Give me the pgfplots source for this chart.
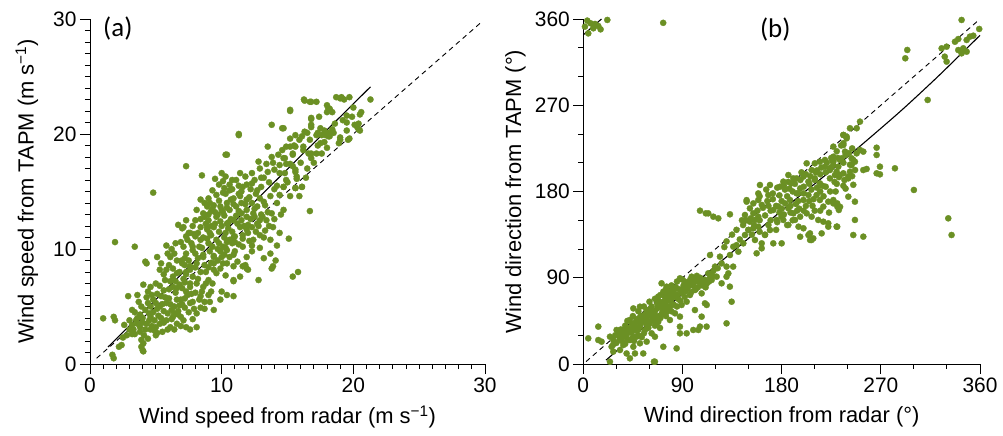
\documentclass[border=0pt]{standalone}
\usepackage{pgfplots}
\pgfplotsset{compat=1.18}
\usepackage{fontspec}
\setmainfont{Liberation Sans}
\newfontfamily\calib{Carlito}
\definecolor{dotgreen}{RGB}{107,144,36}
\pgfplotsset{
  myax/.style={
    scale only axis, height=345bp,
    axis x line=bottom, axis y line=left,
    axis line style={-, line width=0.9bp},
    tick align=outside, major tick length=10bp, minor tick length=5bp,
    every tick/.style={black, line width=0.9bp},
    every minor tick/.style={black, line width=0.9bp},
    every tick label/.append style={font=\fontsize{21}{24}\selectfont},
    /pgf/number format/assume math mode=true,
    label style={font=\fontsize{22}{26}\selectfont},
    x label style={at={(axis description cs:0.5,-0.153)}, anchor=center},
    clip=false, anchor=origin,
  },
  dots/.style={color=dotgreen, only marks, mark=*, mark size=3.1bp, mark options={solid, draw=dotgreen, fill=dotgreen, line width=0.3bp}},
}
\begin{document}
\begin{tikzpicture}
\path[use as bounding box] (0,0) rectangle (1003bp,436bp);
\begin{axis}[myax, at={(90bp,72bp)}, width=395bp,
  xmin=0, xmax=30, ymin=0, ymax=30,
  xtick={0,10,20,30}, ytick={0,10,20,30}, minor tick num=9,
  xlabel={Wind speed from radar (m s\textsuperscript{−1})},
  ylabel={Wind speed from TAPM (m s\textsuperscript{−1})},
  y label style={at={(axis description cs:-0.16,0.5)}, anchor=center},
]
\addplot[dots] coordinates {
(1.0,3.97)(1.9,3.8)(1.7,0.8)(1.8,0.5)(1.9,10.6)(3.4,10.2)(4.8,14.9)(7.3,17.2)(8.5,16.4)(11.3,19.9)
(10.3,18.2)(15.8,8.0)(15.4,7.6)(16.7,13.3)(15.1,10.9)(13.8,8.3)(12.8,7.3)(8.1,3.2)(4.0,1.2)(4.05,1.8)
(2.4,1.65)(2.9,5.9)(4.3,8.75)(5.1,9.3)(16.25,23.0)(16.8,22.8)(17.2,22.8)(18.7,23.2)(19.0,23.1)(19.7,23.2)
(21.3,23.0)(15.2,22.1)(19.9,21.5)(20.5,21.7)(20.6,21.9)(20.1,20.8)(20.4,20.4)(19.7,19.6)(19.0,19.5)(18.1,20.1)
(18.2,19.8)(16.8,21.4)(17.5,20.5)(18.1,22.2)(18.2,22.1)(17.4,21.5)
(1.8,4.1)(3.2,4.7)(4.05,6.9)(4.4,6.3)(4.2,8.9)(5.4,8.75)(5.9,9.6)(6.1,9.3)(5.8,10.3)(6.7,12.1)
(7.0,11.8)(7.3,11.1)(7.6,11.4)(6.5,10.5)(7.1,10.2)(7.7,10.5)(7.8,9.9)(8.4,10.8)(8.5,10.1)(8.9,11.9)
(9.1,11.4)(6.3,8.3)(6.6,7.9)(5.8,8.2)(5.3,8.2)(7.0,8.75)(7.5,9.0)(8.1,8.75)(7.6,8.2)(8.7,8.6)
(9.4,9.3)(9.9,9.8)(10.1,10.2)(10.1,8.75)(10.6,9.3)(10.3,7.7)(10.9,7.3)(10.9,8.5)(10.6,10.8)(9.6,7.9)
(9.4,8.2)(10.0,6.3)(9.9,5.6)(10.4,6.0)(10.9,5.9)(6.1,7.2)(6.3,6.7)(7.1,7.4)(6.8,6.9)(7.6,6.7)
(8.1,7.0)(8.6,6.7)(9.0,7.3)(8.4,5.9)(8.7,5.4)(9.2,6.3)(9.1,5.4)(8.7,4.8)(8.1,4.4)(9.4,4.7)
(7.6,5.3)(7.2,5.7)(6.6,5.6)(6.8,5.1)(5.8,5.3)(6.2,4.7)(5.3,5.0)(5.6,4.6)(4.8,5.6)(4.4,5.3)
(5.1,6.1)(5.6,6.4)(4.2,4.7)(4.6,4.1)(3.8,4.3)(3.5,3.8)(4.9,3.8)(5.3,3.5)(5.8,3.8)(6.3,4.1)
(6.7,4.3)(7.1,3.8)(6.1,3.2)(6.6,3.5)(3.8,3.2)(3.3,3.0)(4.1,2.5)(3.9,2.1)(3.0,3.8)(3.2,3.4)
(3.7,5.4)(3.9,5.0)(3.9,1.5)(4.05,1.1)(2.2,1.5)(7.3,3.2)(7.6,3.0)(5.1,2.7)(4.6,3.0)
(11.3,20.0)(10.4,18.2)(13.8,20.8)(14.6,20.5)(13.5,18.9)(15.6,19.9)(16.5,20.1)(16.8,20.8)(15.2,18.9)(15.4,18.3)
(15.9,19.5)(16.2,18.9)(17.2,19.9)(17.5,19.2)(17.8,20.3)(16.6,18.3)(16.8,17.9)(17.2,18.3)(15.2,17.4)(15.6,16.9)
(14.7,17.9)(14.4,17.3)(13.8,18.0)(13.4,17.4)(12.8,17.6)(12.9,17.0)(13.5,16.7)(14.0,16.9)(12.3,16.6)(11.8,16.3)
(11.4,16.6)(11.1,16.0)(10.1,15.9)(10.6,15.6)(10.0,16.6)(9.5,16.1)(11.6,15.4)(12.3,15.7)(12.7,15.1)(13.0,15.4)
(14.4,16.6)(14.9,16.0)(15.7,16.1)(16.1,15.4)(15.6,15.3)(15.2,14.6)(14.7,15.4)(14.4,14.7)(15.9,14.6)(14.2,14.0)
(14.7,13.4)(13.7,14.6)(13.2,14.1)(12.7,13.7)(12.3,14.0)(11.9,14.3)(11.4,14.6)(9.3,15.1)(9.6,14.7)(9.0,14.4)
(9.4,13.8)(10.1,14.9)(10.6,15.1)(10.9,14.4)(10.4,14.0)(9.9,13.7)(10.1,13.2)(10.6,13.4)(11.1,13.7)(11.5,13.1)
(11.9,12.8)(12.5,12.8)(12.9,12.5)(13.4,12.5)(13.8,13.1)(13.9,11.9)(14.4,11.4)(13.3,11.6)(12.9,11.2)(12.3,11.9)
(11.9,11.7)(9.6,12.8)(9.0,12.5)(9.4,11.9)(9.9,12.4)(10.4,12.2)(10.9,12.5)(10.3,11.4)(10.8,11.5)(11.4,11.9)
(11.6,11.2)(9.2,11.2)(8.9,11.7)(8.4,11.9)(8.0,11.1)(7.5,11.4)(7.1,11.9)(8.1,13.4)(8.6,13.1)(8.0,12.5)
(7.3,12.5)(8.4,14.3)(8.7,14.0)(9.8,10.5)(10.3,10.1)(11.0,10.6)(11.6,10.2)(12.4,10.8)(12.9,10.1)(13.7,10.8)
(14.2,10.3)(12.3,9.8)(11.9,9.3)(13.2,9.2)(13.7,9.6)(14.1,9.0)(13.9,8.5)(10.9,9.5)(11.2,8.9)(10.0,9.3)
(10.4,8.75)(9.1,9.8)(8.6,9.3)(7.8,10.2)(7.3,9.6)(9.4,8.75)(9.9,8.3)(11.6,8.5)(11.9,8.3)(6.96,9.0)
(7.2,8.6)(7.6,8.5)(11.8,8.6)(12.0,8.2)(11.4,7.6)(10.9,7.2)
(16.3,22.9)(16.7,22.8)(19.1,23.2)(19.3,23.0)(15.2,22.0)(18.0,22.5)(18.2,22.2)(18.4,21.9)(18.0,21.9)(16.8,21.3)
(19.5,21.6)(14.7,20.5)(16.8,20.6)(20.4,20.9)(16.3,20.2)(15.2,19.6)(17.3,20.1)(17.6,19.9)(18.4,20.4)(18.5,20.1)
(18.1,19.8)(17.9,19.9)(16.1,19.8)(16.7,19.5)(19.5,21.0)(19.5,20.3)(20.5,20.3)(20.3,20.6)(19.0,19.7)(19.6,19.5)
(18.9,19.2)(17.3,19.0)(15.6,18.9)(15.4,18.2)(16.2,18.6)(16.8,18.3)(18.0,18.8)(14.6,18.6)(14.8,17.9)(14.9,17.4)
(15.4,17.2)(15.6,16.7)(14.8,16.6)(15.7,16.3)(14.7,15.4)(15.6,15.3)(16.1,15.4)
(9.0,13.0)(9.3,13.5)(9.5,12.2)(9.7,13.0)(9.8,14.2)(10.0,12.0)(10.2,12.9)(10.4,13.6)(10.5,11.8)(10.7,12.6)
(10.9,13.9)(11.0,11.1)(11.2,12.2)(11.3,13.3)(11.5,14.0)(11.7,12.0)(11.9,13.4)(12.1,14.5)(12.2,12.6)(12.5,13.5)
(12.6,14.8)(10.3,14.8)(10.8,15.2)(11.5,15.0)(9.6,10.8)(10.2,11.0)(10.8,10.5)(11.6,10.9)(12.0,11.4)(12.8,12.0)
(13.0,13.0)(13.3,13.8)(9.2,12.0)(8.8,12.2)(8.6,11.0)(9.0,10.5)(8.3,10.2)(8.0,9.6)(8.6,9.5)(9.4,9.4)
(10.4,9.9)(11.0,9.8)(12.3,10.3)
(4.5,3.8)(4.8,4.5)(5.0,3.2)(5.2,4.2)(5.5,5.2)(5.6,3.6)(5.9,4.4)(6.0,5.7)(6.2,3.9)(6.4,5.0)
(6.5,6.2)(6.7,4.6)(6.9,5.6)(7.0,6.6)(7.2,4.9)(7.4,6.0)(7.6,7.0)(7.8,5.4)(8.0,6.2)(8.2,7.4)
(3.6,3.5)(4.0,4.0)(4.2,3.0)(3.4,2.6)(4.4,2.2)(5.0,2.5)(4.7,6.0)(5.3,6.8)(5.7,7.3)(6.3,7.6)
(6.8,8.0)(7.3,7.8)(3.0,3.0)(2.8,2.5)(3.8,2.8)(4.6,5.0)
(8.7,12.8)(9.1,14.0)(9.5,13.2)(9.8,11.5)(10.0,13.4)(10.2,15.3)(10.5,12.3)(10.7,14.3)(10.9,11.0)(11.1,12.9)
(11.3,14.8)(11.5,12.5)(11.8,13.9)(12.0,12.1)(12.2,15.2)(12.4,13.1)(12.7,12.2)(12.9,14.4)(13.1,12.8)(13.5,13.2)
(9.3,10.2)(9.7,10.0)(10.4,10.6)(11.3,10.4)(12.1,10.7)(12.6,11.5)(13.2,11.0)(13.6,12.0)(14.0,12.6)(14.5,13.0)
(14.0,15.2)(13.6,15.8)(13.0,16.2)(12.5,16.0)(11.9,15.6)(11.3,15.5)(10.8,16.0)(10.3,16.3)(9.8,15.6)(9.2,13.3)
(8.9,13.7)(8.4,12.6)(8.2,11.4)(7.8,12.0)(8.9,10.9)
(4.3,3.5)(4.7,3.3)(5.1,4.8)(5.4,4.0)(5.7,5.8)(5.9,3.0)(6.1,5.2)(6.4,4.4)(6.6,6.6)(6.9,4.1)
(7.0,5.2)(7.3,6.3)(7.5,4.5)(7.7,6.1)(7.9,4.8)(8.3,5.6)(8.5,6.3)(8.8,7.0)(9.0,6.0)(9.3,7.0)
(5.4,5.9)(5.0,5.3)(4.5,4.4)(4.0,3.6)(3.6,4.0)(3.2,2.6)(4.9,2.9)(5.5,2.8)(6.4,3.0)(6.9,3.3)
(7.8,3.9)(8.4,4.9)(6.0,6.5)(6.5,7.2)(7.2,7.1)(7.8,7.6)(8.4,8.0)(9.0,8.4)(8.0,8.4)(7.3,8.0)
(5.0,7.0)(4.6,6.7)(3.6,6.0)(4.3,5.8)(3.4,4.5)(2.6,3.4)(2.5,2.3)
(6.0,8.6)(6.4,9.6)(6.9,10.6)(7.4,10.8)(7.9,11.3)(8.2,9.2)(8.8,8.0)(9.2,8.8)(9.7,9.0)(10.2,9.5)
(6.6,9.0)(7.2,9.2)(5.6,7.8)(6.2,10.0)
(13.2,16.2)(13.9,17.5)(14.3,18.2)(14.9,18.9)(15.5,19.0)(16.0,17.5)(16.5,17.0)(17.0,17.5)(17.6,18.3)(16.4,16.2)
(15.0,15.8)(14.2,15.5)(17.8,19.3)(18.6,20.9)(19.2,21.2)(20.0,22.3)
};
\addplot[black, line width=0.9bp, dash pattern=on 5bp off 4bp] coordinates {(0.5,0.5)(29.8,29.8)};
\addplot[black, line width=1.1bp] coordinates {(1.37,1.48)(21.3,24.1)};
\node[font=\calib\fontsize{27}{30}\selectfont, anchor=north west, inner sep=0pt] at (axis description cs:0.033,1.006) {(a)};
\end{axis}
\begin{axis}[myax, at={(583.3bp,72bp)}, width=396.7bp,
  xmin=0, xmax=360, ymin=0, ymax=360,
  xtick={0,90,180,270,360}, ytick={0,90,180,270,360}, minor tick num=2,
  xlabel={Wind direction from radar (°)},
  ylabel={Wind direction from TAPM (°)},
  y label style={at={(axis description cs:-0.171,0.5)}, anchor=center},
]
\addplot[dots] coordinates {
(3.6,358.3)(6.7,355.5)(4.5,345)(9.1,350.3)(13.6,352.7)(15.7,349.2)(21.8,359)(10.6,354.8)(72.5,356)(1.5,352)
(4.5,26.8)(13.6,39)(13.6,25)(16.6,23.3)(24.2,28.5)(27.2,25)(25.7,18)(27.2,12.9)(30.2,35.5)(33.3,32)
(36.3,28.5)(39.3,33.7)(42.3,25)(45.4,18)(46.9,11)(54.4,11)(42.3,45.9)(46.9,42.4)(45.4,58)(51.4,39)
(56,35.5)(53,49.4)(57.5,45.9)(51.4,59.8)(57.5,56.3)(63.5,51.1)(59,37.6)(62,32)(66.5,42.4)(69.6,37.6)
(72.6,18)(65,2.4)(84.7,16.3)(69.6,59.8)(72.6,65)(68,70.3)(72.6,75.5)(71,84.2)(75.6,80.7)(80.2,77.2)
(84.7,72)(77.1,68.9)(80.2,61.6)(75.6,54.6)(83.2,52.9)(78.6,45.9)(87.7,49.4)(87.7,89.4)(92.3,85.9)(93.8,79)
(96.8,72)(98.3,91.1)(104.4,85.9)(101.3,77.2)(107.4,73.7)(113.4,94.6)(116.5,87.7)(121,91.1)(125.5,84.2)(110.4,63.3)
(93.8,32)(99.8,35.5)(104.4,35.5)(111.9,39)(130,42.4)(134.6,65)(130,101.6)(131.6,94.6)(139.1,124)(89.2,61.6)
(93.8,65)(87.7,39)(107.4,49.4)(101.3,56.3)(65,28.5)(57.5,23.3)(48.4,28.5)(51.4,21.6)(36.3,19.8)(33.3,14.6)
(39.3,11)(42.3,5.9)(24.2,2.4)(64.1,2.4)
(35,30)(38,40)(42,33)(45,38)(48,45)(50,30)(52,42)(55,48)(58,40)(60,52)
(62,45)(65,55)(68,50)(70,60)(72,55)(75,64)(78,58)(80,68)(82,62)(85,72)
(88,66)(90,78)(92,70)(95,80)(98,75)(100,84)(102,78)(105,86)(108,82)(110,88)
(112,84)(115,90)(40,25)(45,28)(50,36)(55,32)(60,42)(65,40)(70,48)(75,50)
(80,55)(85,60)(40,45)(45,50)(50,55)(55,60)(60,65)(65,68)(70,72)(75,78)
(80,82)(85,86)(90,88)(30,22)(33,26)(37,36)(44,42)(62,60)(67,63)(78,72)
(83,78)(94,83)(103,92)(118,97)(122,100)
(32,30)(36,33)(40,38)(43,36)(47,40)(49,47)(53,45)(56,52)(59,50)(61,57)
(64,53)(67,58)(69,65)(73,62)(74,70)(77,74)(79,66)(81,75)(84,80)(86,68)
(89,74)(91,82)(93,76)(96,86)(99,82)(101,88)(104,80)(106,90)(109,85)(111,80)
(114,86)(117,92)(48,35)(52,50)(57,42)(63,48)(68,44)(71,52)(76,60)(82,70)
(87,78)(97,88)(44,33)(39,29)(34,36)(29,30)(27,20)(35,24)(38,21)(46,24)
(53,28)(59,44)(66,47)(73,57)
(105.9,160)(111.2,157.2)(113.4,157.2)(118,153.7)(122.5,152)(133.1,156.2)
(148.2,169.4)(154.3,167.6)(151.2,162.4)(160.3,186.8)(169.4,186.8)(178.5,185)(181.5,190.3)(167.9,176.3)(158.8,171.1)(146.7,155.5)
(151.2,148.5)(155.8,150.3)(158.8,153.7)(149.7,139.8)(146.7,134.6)(154.3,141.6)(158.8,143.3)(136.1,122.4)(140.7,117.2)(133.1,113.7)
(125.5,105)(119.5,101.6)(145.2,125.9)(155.8,129.4)(161.9,120.7)(157.3,115.5)(161.9,125.9)(172.4,125.9)(180,125.9)(169.4,139.8)
(164.8,134.6)(175.5,150.3)(180,153.7)(172.4,160.7)(176.9,164.2)(183.1,167.6)(187.6,171.1)(186.1,162.4)(190.6,157.2)(181.5,150.3)
(186.1,145.1)(195.3,143.3)(199.8,141.6)(204.3,134.6)(208.7,131.1)(196.8,132.8)(205.8,129.4)(192.1,150.3)(196.8,153.7)(202.7,157.2)
(207.2,153.7)(213.2,150.3)(217.8,148.5)(217.8,164.2)(222.3,169.4)(230.4,167.6)(231.9,160.7)(222.3,143.3)(230.4,143.3)(211.7,176.3)
(214.7,171.1)(199.8,171.1)(204.3,176.3)(193.6,178.1)(196.8,183.3)(188.8,188.5)(193.6,193.7)(199.8,195.5)(204.3,190.3)(210.1,193.7)
(214.7,188.5)(186.1,197.2)(190.6,193.7)(202.7,209.4)(207.2,202.4)(210.1,209.4)(214.7,211.1)(219.3,205.9)(223.8,202.4)(219.3,212.9)
(226.9,216.3)(226.9,207.6)(231.4,205.9)(232.9,212.9)(237.5,221.6)(228.4,197.2)(223.8,193.7)(236,199)(240.5,195.5)(243.5,207.6)
(246.6,202.4)(236,230.4)(236,239)(239,235.5)(248.1,246)(245,212.9)(248.1,219.8)(240.5,174.6)
(150,140)(155,145)(160,150)(165,155)(170,160)(175,165)(180,170)(185,175)(190,180)(195,178)
(200,185)(205,188)(210,192)(215,198)(220,200)(225,205)(170,150)(178,158)(188,165)(195,170)
(205,170)(215,180)(220,185)(228,190)(232,195)(190,150)(200,160)(208,165)(185,145)(175,140)
(165,135)(142,130)(148,150)(163,163)(172,172)(183,182)(198,200)(212,202)(225,215)(230,222)
(196,162)(210,160)(218,175)(229,180)(236,186)(242,208)(234,228)
(145,145)(152,152)(158,160)(162,166)(167,170)(172,178)(178,176)(182,186)(187,183)(192,188)
(197,192)(202,198)(206,196)(211,200)(216,205)(221,210)(226,212)(231,215)(236,210)(238,218)
(241,220)(244,225)(153,135)(160,138)(168,145)(176,148)(182,156)(188,158)(194,160)(202,165)
(209,172)(217,186)(224,180)(230,188)(237,192)(244,196)(200,178)(207,182)(212,184)(186,190)
(176,184)(166,182)(160,175)(139,140)(135,135)(128,122)(130,128)(144,150)(168,165)(180,162)
(193,167)(215,160)(223,158)(238,183)(245,187)
(343.3,359)(359.3,349.6)(294,327.7)(292.2,319)(325.2,329.4)(329.7,331.1)(337.3,336.3)(340.3,339.1)(347.9,338.1)(350.9,341.6)
(353.9,342.6)(328,320.7)(329.7,315.5)(340.3,327.6)(343.3,324.2)(344.8,329.4)(347.9,325.9)(312.5,275.5)(251.1,252.9)(242,246)
(236,239)(239,237.2)(226.9,226.8)(236,228.5)(266.2,225.7)(254.1,221.6)(251.1,223.3)(266.2,218.1)(282.8,204.2)(269.2,205.9)
(266.2,199)(269.2,197.9)(254.1,202.4)(257.1,203.5)(246.5,211.1)(243.5,214.6)(242,200.7)(240.5,193.7)(229.9,200.7)(232.9,197.2)
(226.9,211.1)(234.4,214.6)(223.8,204.2)(300,181.6)(226.9,167.6)(230.5,164.2)(246.5,169.4)(246.5,150.3)(229.9,143.3)(245,134.6)
(254.1,132.9)(331.2,152)(334.2,134.6)
(205.7,136.3)(216.3,136.3)(207.2,129.4)(222.3,146.8)(226.9,171.1)(233,164)(115,113.7)(124,112)(136,101.6)(130,91.1)
(133,80.7)(112,61.6)(87.7,32)(105.9,39)(158.8,178)(148.2,171)(154.3,157.2)
};
\addplot[black, line width=0.9bp, dash pattern=on 5bp off 4bp] coordinates {(2.5,2.5)(358,358)};
\addplot[black, line width=1.1bp, smooth] coordinates {(20.6,4)(90,73)(180,160)(225,202)(260,236)(290,266)(320,298)(345,326)(360,343)};
\addplot[black, line width=1.1bp] coordinates {(0,343.5)(16.5,360)};
\node[font=\calib\fontsize{27}{30}\selectfont, anchor=north west, inner sep=0pt] at (axis description cs:0.445,1.003) {(b)};
\end{axis}
\end{tikzpicture}
\end{document}
